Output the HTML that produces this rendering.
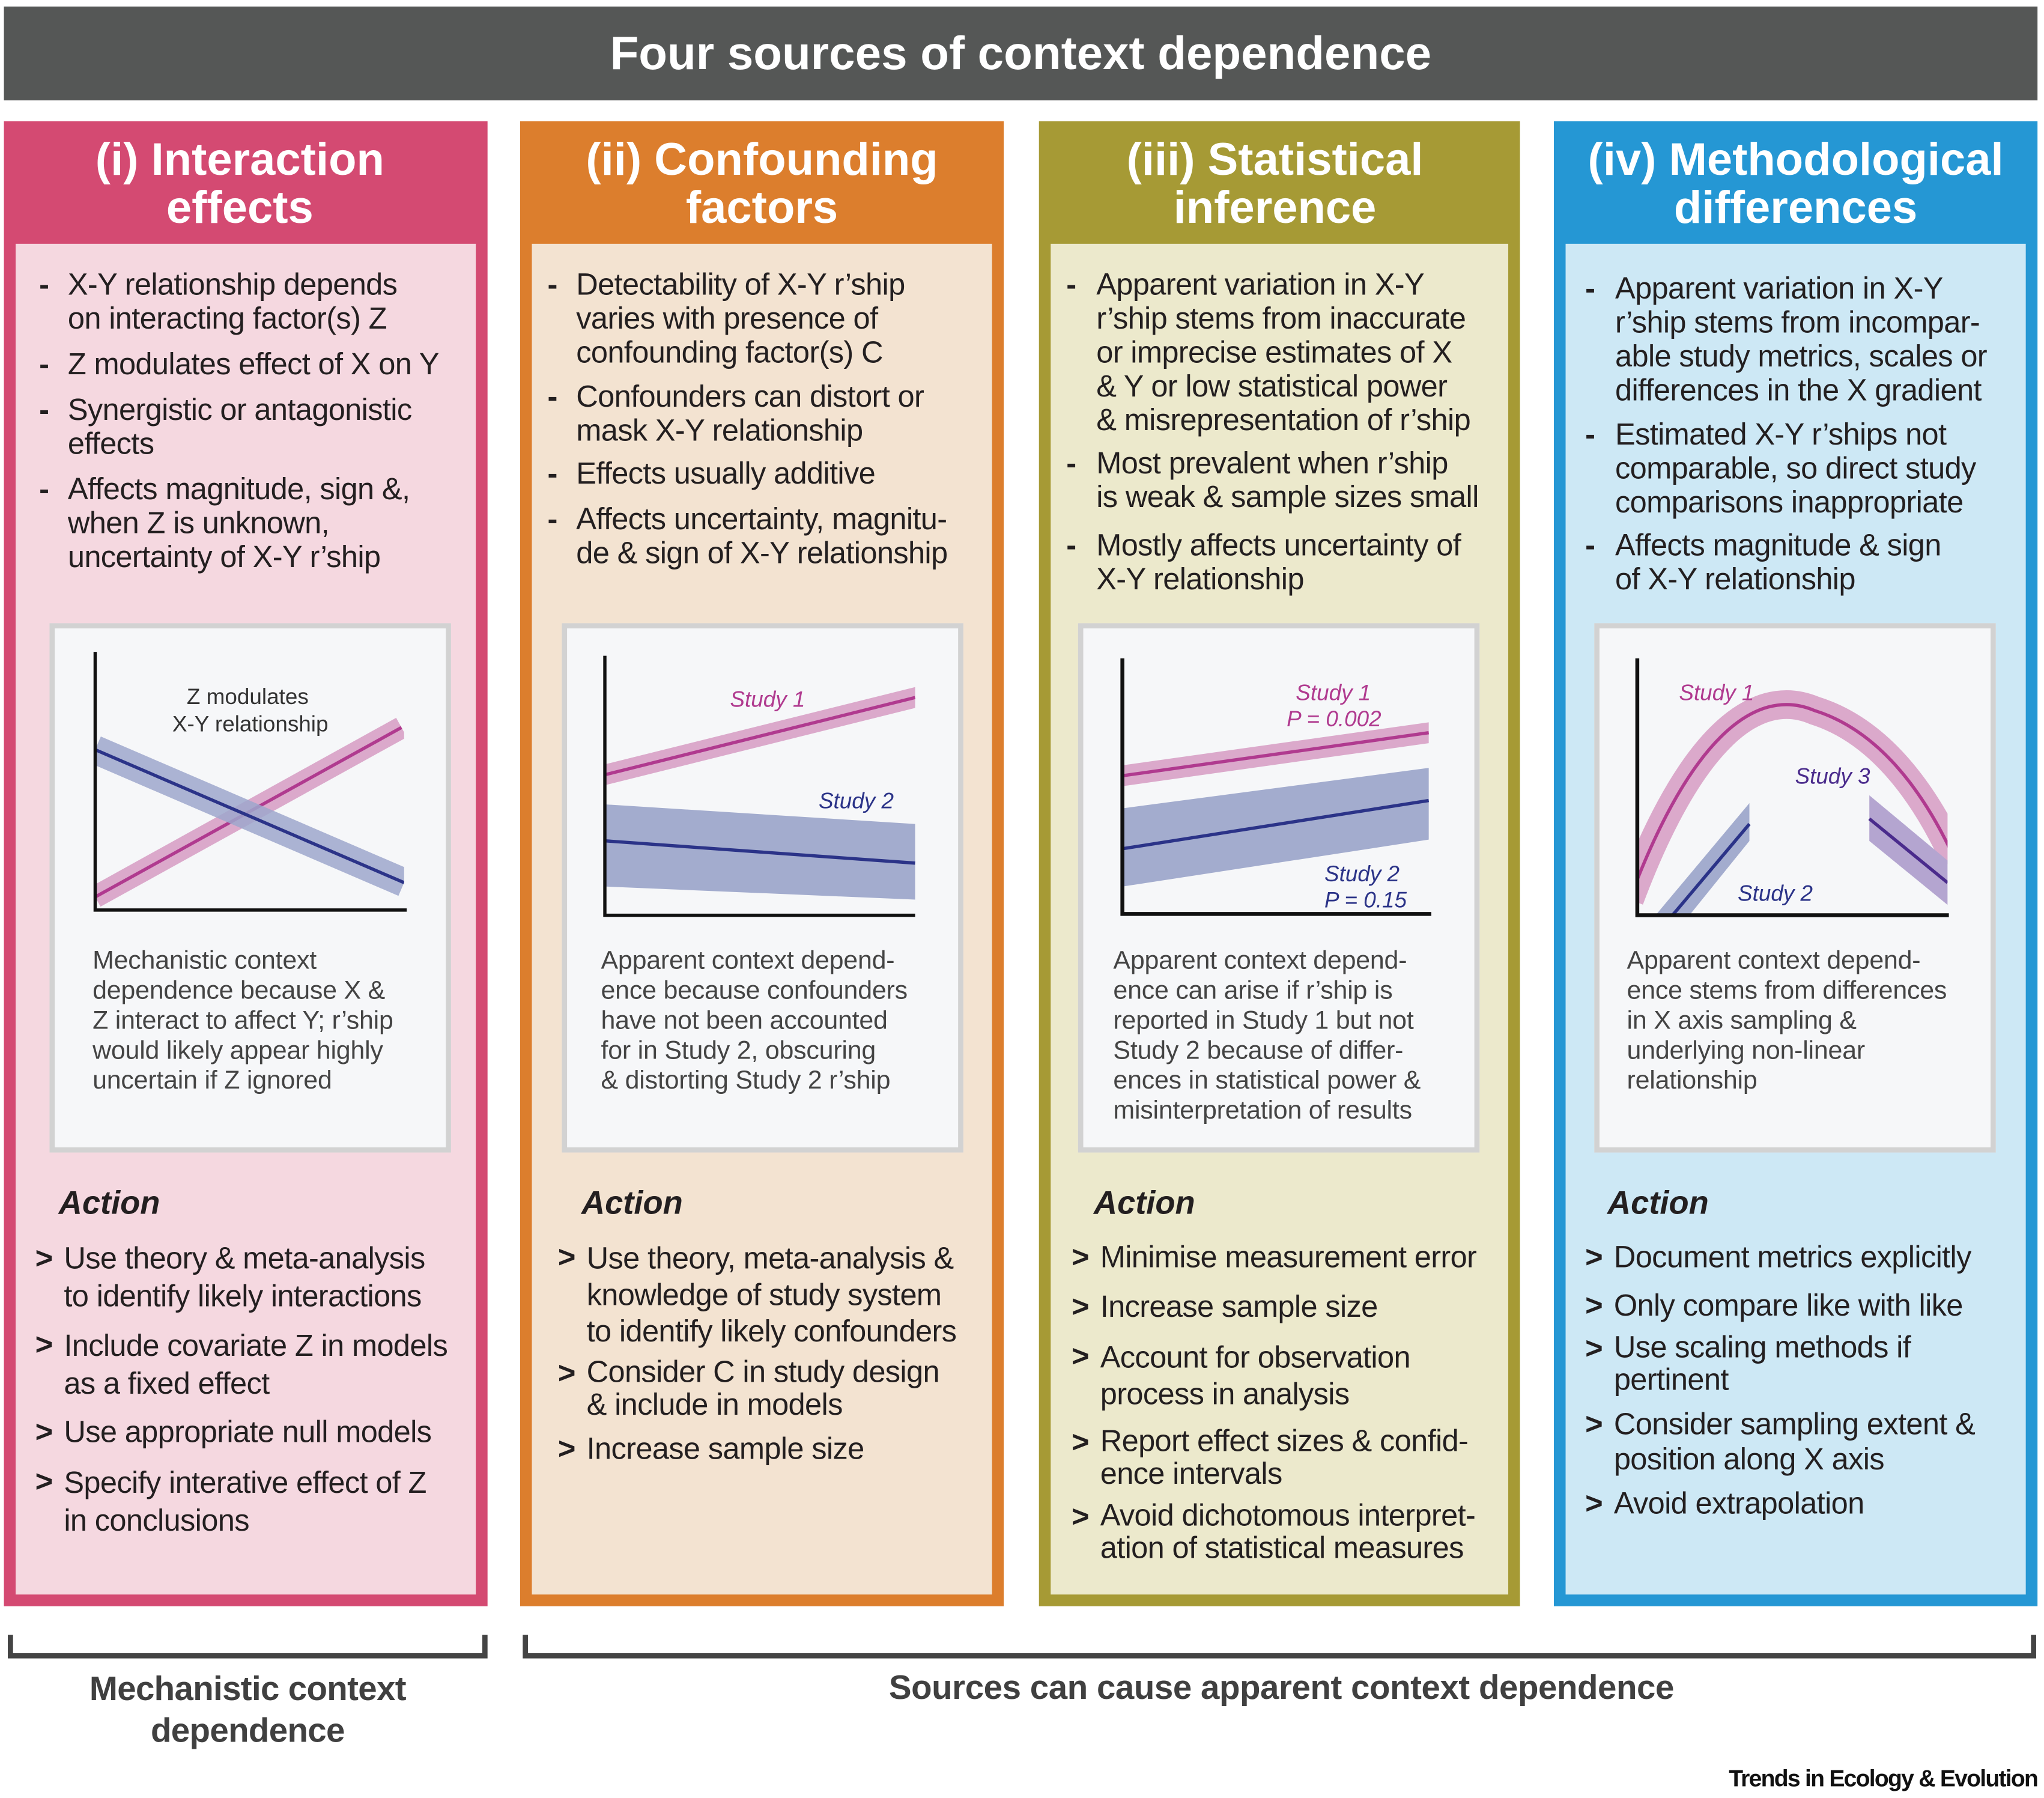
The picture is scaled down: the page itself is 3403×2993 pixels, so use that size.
<!DOCTYPE html>
<html><head><meta charset="utf-8"><style>
html,body{margin:0;padding:0;background:#fff;}
body{width:3403px;height:2993px;overflow:hidden;position:relative;}
#s{position:absolute;left:0;top:0;width:1568px;height:1379px;transform:scale(2.1703);transform-origin:0 0;font-family:"Liberation Sans",Arial,sans-serif;}
.a{position:absolute;white-space:nowrap;}
.t{font-size:23.3px;color:#231f20;letter-spacing:-0.3px;line-height:26px;}
.d{font-weight:bold;}
.c{font-size:19.8px;color:#444;letter-spacing:-0.1px;line-height:23px;}
.h{color:#fff;font-weight:bold;font-size:35px;text-align:center;line-height:37px;}
.act{font-size:25px;font-weight:bold;font-style:italic;color:#231f20;}
.box{position:absolute;background:#f6f7f9;border:4px solid #d2d2d2;}
.col{position:absolute;top:93px;height:1139px;}
.in{position:absolute;top:94px;left:9px;right:9px;bottom:9px;}
</style></head><body><div id="s">
<div class="a" style="left:3px;top:5px;width:1560px;height:72px;background:#555756;"></div>
<div class="a" style="left:3px;top:20px;width:1560px;text-align:center;color:#fff;font-weight:bold;font-size:36px;">Four sources of context dependence</div>

<div class="col" style="left:3px;width:371px;background:#d44a72;"><div class="in" style="background:#f5d8e0;"></div></div>
<div class="col" style="left:399px;width:371px;background:#dc7e2d;"><div class="in" style="background:#f3e3d1;"></div></div>
<div class="col" style="left:797px;width:369px;background:#a69a35;"><div class="in" style="background:#ece9cc;"></div></div>
<div class="col" style="left:1192px;width:371px;background:#2597d4;"><div class="in" style="background:#cde8f5;"></div></div>

<div class="a h" style="left:3px;top:104px;width:362px;">(i) Interaction<br>effects</div>
<div class="a h" style="left:399px;top:104px;width:371px;">(ii) Confounding<br>factors</div>
<div class="a h" style="left:797px;top:104px;width:362px;">(iii) Statistical<br>inference</div>
<div class="a h" style="left:1192px;top:104px;width:371px;">(iv) Methodological<br>differences</div>

<div class="a t d" style="left:30px;top:205px;">-</div>
<div class="a t" style="left:52px;top:205px;">X-Y relationship depends<br>on interacting factor(s) Z</div>
<div class="a t d" style="left:30px;top:266px;">-</div>
<div class="a t" style="left:52px;top:266px;">Z modulates effect of X on Y</div>
<div class="a t d" style="left:30px;top:301px;">-</div>
<div class="a t" style="left:52px;top:301px;">Synergistic or antagonistic<br>effects</div>
<div class="a t d" style="left:30px;top:362px;">-</div>
<div class="a t" style="left:52px;top:362px;">Affects magnitude, sign &amp;,<br>when Z is unknown,<br>uncertainty of X-Y r’ship</div>

<div class="a t d" style="left:420px;top:205px;">-</div>
<div class="a t" style="left:442px;top:205px;">Detectability of X-Y r’ship<br>varies with presence of<br>confounding factor(s) C</div>
<div class="a t d" style="left:420px;top:291px;">-</div>
<div class="a t" style="left:442px;top:291px;">Confounders can distort or<br>mask X-Y relationship</div>
<div class="a t d" style="left:420px;top:350px;">-</div>
<div class="a t" style="left:442px;top:350px;">Effects usually additive</div>
<div class="a t d" style="left:420px;top:385px;">-</div>
<div class="a t" style="left:442px;top:385px;">Affects uncertainty, magnitu-<br>de &amp; sign of X-Y relationship</div>

<div class="a t d" style="left:818px;top:205px;">-</div>
<div class="a t" style="left:841px;top:205px;">Apparent variation in X-Y<br>r’ship stems from inaccurate<br>or imprecise estimates of X<br>&amp; Y or low statistical power<br>&amp; misrepresentation of r’ship</div>
<div class="a t d" style="left:818px;top:342px;">-</div>
<div class="a t" style="left:841px;top:342px;">Most prevalent when r’ship<br>is weak &amp; sample sizes small</div>
<div class="a t d" style="left:818px;top:405px;">-</div>
<div class="a t" style="left:841px;top:405px;">Mostly affects uncertainty of<br>X-Y relationship</div>

<div class="a t d" style="left:1216px;top:208px;">-</div>
<div class="a t" style="left:1239px;top:208px;">Apparent variation in X-Y<br>r’ship stems from incompar-<br>able study metrics, scales or<br>differences in the X gradient</div>
<div class="a t d" style="left:1216px;top:320px;">-</div>
<div class="a t" style="left:1239px;top:320px;">Estimated X-Y r’ships not<br>comparable, so direct study<br>comparisons inappropriate</div>
<div class="a t d" style="left:1216px;top:405px;">-</div>
<div class="a t" style="left:1239px;top:405px;">Affects magnitude &amp; sign<br>of X-Y relationship</div>

<div class="box" style="left:38px;top:478px;width:300px;height:398px;"></div>
<div class="box" style="left:431px;top:478px;width:300px;height:398px;"></div>
<div class="box" style="left:827px;top:478px;width:300px;height:398px;"></div>
<div class="box" style="left:1223px;top:478px;width:300px;height:398px;"></div>

<svg class="a" style="left:0;top:0;" width="1568" height="1379" viewBox="0 0 1568 1379">
<defs><clipPath id="cp4"><rect x="1257" y="500" width="237" height="202"/></clipPath>
<clipPath id="cp1"><rect x="74" y="500" width="236" height="198"/></clipPath></defs>
<g font-family="Liberation Sans, Arial, sans-serif">
<g clip-path="url(#cp1)">
<line x1="73" y1="688" x2="308" y2="558" stroke="#dba9cb" stroke-width="17"/>
<line x1="73" y1="688" x2="308" y2="558" stroke="#b03a8f" stroke-width="2.5"/>
<line x1="73" y1="575" x2="310" y2="677" stroke="#9ea7cc" stroke-opacity="0.85" stroke-width="22"/>
<line x1="73" y1="575" x2="310" y2="677" stroke="#2b3388" stroke-width="2.5"/>
</g>
<path d="M73 500 V698 H312" fill="none" stroke="#111" stroke-width="2.5"/>
<text x="190" y="540" font-size="17" fill="#333" text-anchor="middle">Z modulates</text>
<text x="192" y="561" font-size="17" fill="#333" text-anchor="middle">X-Y relationship</text>
<polygon points="465,586 702,527 702,543 465,602" fill="#dba9cb"/>
<line x1="465" y1="594" x2="702" y2="535" stroke="#b03a8f" stroke-width="2.5"/>
<polygon points="465,617 702,632 702,690 465,680" fill="#a3acce"/>
<line x1="465" y1="645" x2="702" y2="662" stroke="#2b3388" stroke-width="2.5"/>
<path d="M464 503 V702 H702" fill="none" stroke="#111" stroke-width="2.5"/>
<text x="560" y="542" font-size="17" fill="#b03a8f" font-style="italic">Study 1</text>
<text x="628" y="620" font-size="17" fill="#2b3388" font-style="italic">Study 2</text>
<polygon points="861,587 1096,554 1096,570 861,603" fill="#dba9cb"/>
<line x1="861" y1="595" x2="1096" y2="562" stroke="#b03a8f" stroke-width="2.5"/>
<polygon points="861,620 1096,589 1096,644 861,680" fill="#a3acce"/>
<line x1="861" y1="651" x2="1096" y2="614" stroke="#2b3388" stroke-width="2.5"/>
<path d="M861 505 V701 H1098" fill="none" stroke="#111" stroke-width="3"/>
<text x="994" y="537" font-size="17" fill="#b03a8f" font-style="italic">Study 1</text>
<text x="987" y="557" font-size="17" fill="#b03a8f" font-style="italic">P = 0.002</text>
<text x="1016" y="676" font-size="17" fill="#2b3388" font-style="italic">Study 2</text>
<text x="1016" y="696" font-size="17" fill="#2b3388" font-style="italic">P = 0.15</text>
<g clip-path="url(#cp4)">
<path d="M1250 690 C1295 570 1345 525 1392 545 C1440 560 1475 605 1500 660" fill="none" stroke="#dba9cb" stroke-width="22"/>
<path d="M1250 690 C1295 570 1345 525 1392 545 C1440 560 1475 605 1500 660" fill="none" stroke="#b03a8f" stroke-width="2.5"/>
<polygon points="1270,702 1296,702 1342,645 1342,616" fill="#a3acce"/>
<line x1="1283" y1="702" x2="1342" y2="632" stroke="#2b3388" stroke-width="2.5"/>
<polygon points="1434,610 1494,660 1494,694 1434,645" fill="#b4a5d0"/>
<line x1="1434" y1="628" x2="1494" y2="677" stroke="#4a2b8c" stroke-width="2.5"/>
</g>
<path d="M1256 505 V702 H1495" fill="none" stroke="#111" stroke-width="3"/>
<text x="1288" y="537" font-size="17" fill="#b03a8f" font-style="italic">Study 1</text>
<text x="1377" y="601" font-size="17" fill="#4a2b8c" font-style="italic">Study 3</text>
<text x="1333" y="691" font-size="17" fill="#2b3388" font-style="italic">Study 2</text>
<path d="M8 1254 V1270 H372 V1254" fill="none" stroke="#444" stroke-width="4"/>
<path d="M403 1254 V1270 H1560 V1254" fill="none" stroke="#444" stroke-width="4"/>
</g></svg>

<div class="a c" style="left:71px;top:726px;">Mechanistic context<br>dependence because X &amp;<br>Z interact to affect Y; r’ship<br>would likely appear highly<br>uncertain if Z ignored</div>
<div class="a c" style="left:461px;top:726px;">Apparent context depend-<br>ence because confounders<br>have not been accounted<br>for in Study 2, obscuring<br>&amp; distorting Study 2 r’ship</div>
<div class="a c" style="left:854px;top:726px;">Apparent context depend-<br>ence can arise if r’ship is<br>reported in Study 1 but not<br>Study 2 because of differ-<br>ences in statistical power &amp;<br>misinterpretation of results</div>
<div class="a c" style="left:1248px;top:726px;">Apparent context depend-<br>ence stems from differences<br>in X axis sampling &amp;<br>underlying non-linear<br>relationship</div>

<div class="a act" style="left:45px;top:909px;">Action</div>
<div class="a act" style="left:446px;top:909px;">Action</div>
<div class="a act" style="left:839px;top:909px;">Action</div>
<div class="a act" style="left:1233px;top:909px;">Action</div>

<div class="a t d" style="left:27px;top:952px;">&gt;</div>
<div class="a t" style="left:49px;top:951px;line-height:29px;">Use theory &amp; meta-analysis<br>to identify likely interactions</div>
<div class="a t d" style="left:27px;top:1018px;">&gt;</div>
<div class="a t" style="left:49px;top:1018px;line-height:29px;">Include covariate Z in models<br>as a fixed effect</div>
<div class="a t d" style="left:27px;top:1085px;">&gt;</div>
<div class="a t" style="left:49px;top:1085px;">Use appropriate null models</div>
<div class="a t d" style="left:27px;top:1123px;">&gt;</div>
<div class="a t" style="left:49px;top:1123px;line-height:29px;">Specify interative effect of Z<br>in conclusions</div>

<div class="a t d" style="left:428px;top:951px;">&gt;</div>
<div class="a t" style="left:450px;top:951px;line-height:28px;">Use theory, meta-analysis &amp;<br>knowledge of study system<br>to identify likely confounders</div>
<div class="a t d" style="left:428px;top:1040px;">&gt;</div>
<div class="a t" style="left:450px;top:1040px;line-height:25px;">Consider C in study design<br>&amp; include in models</div>
<div class="a t d" style="left:428px;top:1098px;">&gt;</div>
<div class="a t" style="left:450px;top:1098px;">Increase sample size</div>

<div class="a t d" style="left:822px;top:951px;">&gt;</div>
<div class="a t" style="left:844px;top:951px;">Minimise measurement error</div>
<div class="a t d" style="left:822px;top:989px;">&gt;</div>
<div class="a t" style="left:844px;top:989px;">Increase sample size</div>
<div class="a t d" style="left:822px;top:1027px;">&gt;</div>
<div class="a t" style="left:844px;top:1027px;line-height:28px;">Account for observation<br>process in analysis</div>
<div class="a t d" style="left:822px;top:1093px;">&gt;</div>
<div class="a t" style="left:844px;top:1093px;line-height:25px;">Report effect sizes &amp; confid-<br>ence intervals</div>
<div class="a t d" style="left:822px;top:1150px;">&gt;</div>
<div class="a t" style="left:844px;top:1150px;line-height:25px;">Avoid dichotomous interpret-<br>ation of statistical measures</div>

<div class="a t d" style="left:1216px;top:951px;">&gt;</div>
<div class="a t" style="left:1238px;top:951px;">Document metrics explicitly</div>
<div class="a t d" style="left:1216px;top:988px;">&gt;</div>
<div class="a t" style="left:1238px;top:988px;">Only compare like with like</div>
<div class="a t d" style="left:1216px;top:1021px;">&gt;</div>
<div class="a t" style="left:1238px;top:1021px;line-height:25px;">Use scaling methods if<br>pertinent</div>
<div class="a t d" style="left:1216px;top:1079px;">&gt;</div>
<div class="a t" style="left:1238px;top:1079px;line-height:27px;">Consider sampling extent &amp;<br>position along X axis</div>
<div class="a t d" style="left:1216px;top:1140px;">&gt;</div>
<div class="a t" style="left:1238px;top:1140px;">Avoid extrapolation</div>

<div class="a" style="left:8px;top:1279px;width:364px;text-align:center;font-weight:bold;font-size:26px;color:#404040;line-height:32px;letter-spacing:-0.3px;">Mechanistic context<br>dependence</div>
<div class="a" style="left:403px;top:1279px;width:1160px;text-align:center;font-weight:bold;font-size:26px;color:#404040;letter-spacing:-0.2px;">Sources can cause apparent context dependence</div>
<div class="a" style="right:5px;top:1354px;font-weight:bold;font-size:18px;color:#111;letter-spacing:-0.8px;">Trends in Ecology &amp; Evolution</div>
</div></body></html>
